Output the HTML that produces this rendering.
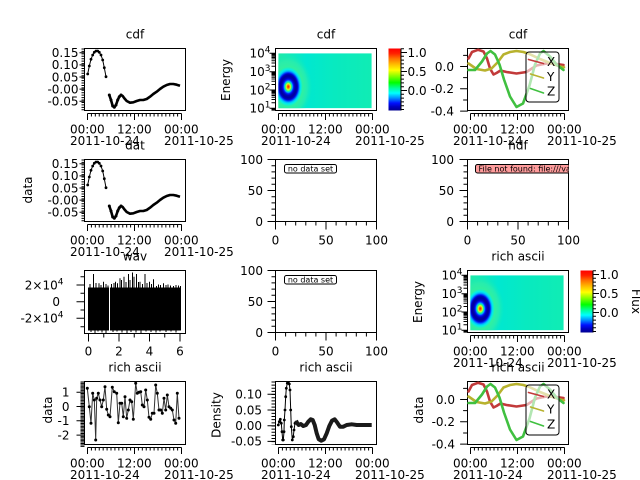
<!DOCTYPE html>
<html><head><meta charset="utf-8"><title>chart</title>
<style>
html,body{margin:0;padding:0;background:#fff;width:640px;height:480px;overflow:hidden}
svg{display:block}
text{font-family:"DejaVu Sans","Liberation Sans",sans-serif;font-size:12px;fill:#000}
.s{font-size:8px}
</style></head><body>
<svg xmlns="http://www.w3.org/2000/svg" xmlns:xlink="http://www.w3.org/1999/xlink" width="640" height="480" viewBox="0 0 640 480">
<defs>
<linearGradient id="cb" x1="0" y1="0" x2="0" y2="1">
<stop offset="0" stop-color="#ff0000"/>
<stop offset="0.08" stop-color="#ff2000"/>
<stop offset="0.16" stop-color="#ff7000"/>
<stop offset="0.26" stop-color="#ffc000"/>
<stop offset="0.35" stop-color="#ffff00"/>
<stop offset="0.45" stop-color="#80ff00"/>
<stop offset="0.55" stop-color="#00ff00"/>
<stop offset="0.64" stop-color="#00ff99"/>
<stop offset="0.72" stop-color="#00ffff"/>
<stop offset="0.80" stop-color="#0090ff"/>
<stop offset="0.88" stop-color="#0010ff"/>
<stop offset="0.94" stop-color="#0000c0"/>
<stop offset="1" stop-color="#000090"/>
</linearGradient>
<linearGradient id="bg" x1="0" y1="0" x2="1" y2="0">
<stop offset="0" stop-color="#20eaa8"/>
<stop offset="0.3" stop-color="#00e8d0"/>
<stop offset="0.6" stop-color="#08eac0"/>
<stop offset="1" stop-color="#10ecb4"/>
</linearGradient>
<radialGradient id="bl">
<stop offset="0" stop-color="#ff1000"/>
<stop offset="0.05" stop-color="#ff8000"/>
<stop offset="0.09" stop-color="#e0ff20"/>
<stop offset="0.13" stop-color="#20ff80"/>
<stop offset="0.17" stop-color="#00b0ff"/>
<stop offset="0.21" stop-color="#0020ff"/>
<stop offset="0.26" stop-color="#0000c0"/>
<stop offset="0.33" stop-color="#000098"/>
<stop offset="0.39" stop-color="#0000c8"/>
<stop offset="0.43" stop-color="#0040ff"/>
<stop offset="0.47" stop-color="#00b0ff"/>
<stop offset="0.52" stop-color="#00f0e8"/>
<stop offset="0.6" stop-color="#30f0a0"/>
<stop offset="0.78" stop-color="#30eea8" stop-opacity="0.7"/>
<stop offset="1" stop-color="#10eab8" stop-opacity="0"/>
</radialGradient>
<clipPath id="spc"><rect x="278.3" y="53.3" width="93.4" height="55"/></clipPath>
<clipPath id="hdfc"><rect x="467.5" y="159.5" width="101" height="62"/></clipPath>
<g id="tax" stroke="#000" fill="none">
<path d="M3 3H97M3 3V9.5M50 3V9.5M97 3V9.5"/>
<line x1="2.5" y1="4.5" x2="98" y2="4.5" stroke-width="3" stroke-dasharray="1 2.917"/>
</g>
<g id="nax" stroke="#000" fill="none">
<rect x="0" y="0" width="101" height="62" fill="#fff"/>
<path d="M0 62V70M50.5 62V70M101 62V70M10.1 62V66M20.2 62V66M30.3 62V66M40.4 62V66M60.6 62V66M70.7 62V66M80.8 62V66M90.9 62V66M-8 0H0M-8 31H0M-8 62H0M-4 6.2H0M-4 12.4H0M-4 18.6H0M-4 24.8H0M-4 37.2H0M-4 43.4H0M-4 49.6H0M-4 55.8H0"/>
</g>
<g id="c3c" fill="none" stroke-width="2.6" stroke-linejoin="round" stroke-linecap="round">
<polyline stroke="#c23a3a" points="1,10 4.5,3.5 10.5,1.3 16,3 19.5,10 22.5,20 26,26 29,24.5 33,22 39,23.5 49,25 59,23.5 69,17 79,15 89,15.5 96,16.5"/>
<polyline stroke="#b8b22e" points="1,15 9,20.5 17.5,22 24,20 30,14 36,6 42.5,3.5 49,2.5 56,3.5 62.5,5.8 72.5,10.5 82.5,14.5 92.5,18 96.5,18.8"/>
<polyline stroke="#40c040" points="1,21.5 7.5,21.5 14.5,13 19.5,5 23,2.5 27.5,6 32,16 36.5,31 42.5,48 49,58.5 55.5,55 62,37 67.5,16 72.5,5 76,2.5 82.5,8 89,16 96,21.5"/>
<rect x="58.5" y="3.5" width="33" height="50" rx="3" fill="#fff" fill-opacity="0.6" stroke="#000" stroke-width="1"/>
<line x1="61" y1="11" x2="76" y2="15" stroke="#c23a3a" stroke-width="1.6"/>
<line x1="63" y1="25.5" x2="76" y2="29.5" stroke="#b8b22e" stroke-width="1.6"/>
<line x1="63" y1="40" x2="76" y2="44.5" stroke="#40c040" stroke-width="1.6"/>
<path stroke="#000" stroke-width="1" d="M-7 18H0M-7 40.3H0M-7 62.6H0M-4 6.85H0M-4 29.15H0M-4 51.45H0"/>
</g>
</defs>

<!-- ========== ROW 1 / ROW 2 COL 1 ========== -->
<g id="c1p">
<rect x="84.5" y="48.5" width="101" height="62" fill="#fff" stroke="#000"/>
<path stroke="#000" d="M79.5 52.7H84.5M79.5 64.85H84.5M79.5 77H84.5M79.5 89.15H84.5M79.5 101.3H84.5"/>
<line x1="83" y1="48.5" x2="83" y2="110.5" stroke="#000" stroke-width="3" stroke-dasharray="1 1.43"/>
<polyline fill="none" stroke="#000" stroke-width="1" points="87.7,74 89.3,66 91,59.3 92.7,55 94.3,52.3 96,51 97.7,51 99.3,52.3 101,55 102.7,60 104.3,67.7 106,76.7"/>
<g fill="#000">
<circle cx="87.7" cy="74" r="1.4"/><circle cx="89.3" cy="66" r="1.4"/><circle cx="91" cy="59.3" r="1.4"/><circle cx="92.7" cy="55" r="1.4"/><circle cx="94.3" cy="52.3" r="1.4"/><circle cx="96" cy="51" r="1.4"/><circle cx="97.7" cy="51" r="1.4"/><circle cx="99.3" cy="52.3" r="1.4"/><circle cx="101" cy="55" r="1.4"/><circle cx="102.7" cy="60" r="1.4"/><circle cx="104.3" cy="67.7" r="1.4"/><circle cx="106" cy="76.7" r="1.4"/>
<circle cx="109.3" cy="95" r="1.5"/><circle cx="111" cy="100" r="1.5"/><circle cx="112.7" cy="106" r="1.5"/><circle cx="114.3" cy="107.3" r="1.5"/><circle cx="116" cy="105" r="1.5"/><circle cx="117.7" cy="100" r="1.5"/><circle cx="119.3" cy="96.7" r="1.5"/><circle cx="121" cy="95" r="1.5"/>
</g>
<polyline fill="none" stroke="#000" stroke-width="2.6" stroke-linejoin="round" points="109.3,95 111,100 112.7,106 114.3,107.3 116,105 117.7,100 119.3,96.7 121,95 122.7,96 124.3,98.3 126.7,101 130,102.7 133.3,102.3 136.7,101 140,100 143.3,100 146.7,99 150,96.7 153.3,94 156.7,91.7 160,89 163.3,86.7 166.7,85 170,84 173.3,84 176.7,84.7 180,85.7"/>
<use xlink:href="#tax" href="#tax" transform="translate(84.5,110.5)"/>
</g>
<use xlink:href="#c1p" href="#c1p" transform="translate(0,111)"/>

<text x="135" y="38.5" text-anchor="middle">cdf</text>
<g text-anchor="end">
<text x="78.5" y="57">0.15</text><text x="78.5" y="69.15">0.10</text><text x="78.5" y="81.3">0.05</text><text x="78.5" y="93.45">-0.00</text><text x="78.5" y="105.6">-0.05</text>
<text x="78.5" y="168">0.15</text><text x="78.5" y="180.15">0.10</text><text x="78.5" y="192.3">0.05</text><text x="78.5" y="204.45">-0.00</text><text x="78.5" y="216.6">-0.05</text>
</g>
<text x="70" y="133.5">00:00</text><text x="117" y="133.5">12:00</text><text x="164" y="133.5">00:00</text>
<text x="70" y="145">2011-10-24</text><text x="164" y="145">2011-10-25</text>
<text x="135" y="149.5" text-anchor="middle">dat</text>
<text transform="translate(32,190) rotate(-90)" text-anchor="middle">data</text>
<text x="70" y="244.5">00:00</text><text x="117" y="244.5">12:00</text><text x="164" y="244.5">00:00</text>
<text x="70" y="256">2011-10-24</text><text x="164" y="256">2011-10-25</text>

<!-- ========== SPECTROGRAM (R1 C2) ========== -->
<g id="spec">
<rect x="275.5" y="48.5" width="101" height="62" fill="#fff" stroke="#000"/>
<g clip-path="url(#spc)">
<rect x="278.3" y="53.3" width="93.4" height="55" fill="url(#bg)"/>
<ellipse cx="288.3" cy="86.7" rx="24" ry="33" fill="url(#bl)"/>
</g>
<path stroke="#000" fill="none" d="M269.5 53.3H275.5M269.5 71.7H275.5M269.5 90H275.5M269.5 108.3H275.5M271.5 102.8H275.5M271.5 99.55H275.5M271.5 97.3H275.5M271.5 95.5H275.5M271.5 94.04H275.5M271.5 92.8H275.5M271.5 91.75H275.5M271.5 90.8H275.5M271.5 84.5H275.5M271.5 81.25H275.5M271.5 79H275.5M271.5 77.2H275.5M271.5 75.74H275.5M271.5 74.5H275.5M271.5 73.45H275.5M271.5 72.5H275.5M271.5 66.2H275.5M271.5 62.95H275.5M271.5 60.7H275.5M271.5 58.9H275.5M271.5 57.44H275.5M271.5 56.2H275.5M271.5 55.15H275.5M271.5 54.2H275.5M271.5 109.1H275.5M271.5 110.1H275.5"/>
<rect x="388.5" y="48.5" width="12.5" height="62" fill="url(#cb)"/>
<path stroke="#000" fill="none" d="M401 48.5V110.5M401 52.5H407M401 71.5H407M401 90.5H407M401 48.7H404M401 56.3H404M401 60.1H404M401 63.9H404M401 67.7H404M401 75.3H404M401 79.1H404M401 82.9H404M401 86.7H404M401 94.3H404M401 98.1H404M401 101.9H404M401 105.7H404M401 109.5H404"/>
<use xlink:href="#tax" href="#tax" transform="translate(275.5,110.5)"/>
</g>
<text x="326" y="38.5" text-anchor="middle">cdf</text>
<g text-anchor="end">
<text x="270.5" y="57.6">10<tspan font-size="9" dy="-5">4</tspan></text>
<text x="270.5" y="76">10<tspan font-size="9" dy="-5">3</tspan></text>
<text x="270.5" y="94.3">10<tspan font-size="9" dy="-5">2</tspan></text>
<text x="270.5" y="112.6">10<tspan font-size="9" dy="-5">1</tspan></text>
</g>
<text transform="translate(230,80) rotate(-90)" text-anchor="middle">Energy</text>
<text x="407.5" y="56.8">1.0</text><text x="407.5" y="75.8">0.5</text><text x="407.5" y="94.8">0.0</text>
<text x="261" y="133.5">00:00</text><text x="308" y="133.5">12:00</text><text x="355" y="133.5">00:00</text>
<text x="261" y="145">2011-10-24</text><text x="355" y="145">2011-10-25</text>

<!-- ========== R1 C3 ========== -->
<rect x="467.5" y="48.5" width="101" height="62" fill="#fff" stroke="#000"/>
<use xlink:href="#c3c" href="#c3c" transform="translate(467.5,48.5)"/>
<use xlink:href="#tax" href="#tax" transform="translate(467.5,110.5)"/>
<text x="518" y="38.5" text-anchor="middle">cdf</text>
<g text-anchor="end"><text x="454" y="70.8">0.0</text><text x="454" y="93.1">-0.2</text><text x="454" y="115.4">-0.4</text></g>
<text x="547" y="66">X</text><text x="547" y="81">Y</text><text x="547" y="95.5">Z</text>
<text x="453" y="133.5">00:00</text><text x="500" y="133.5">12:00</text><text x="547" y="133.5">00:00</text>
<text x="453" y="145">2011-10-24</text><text x="547" y="145">2011-10-25</text>

<!-- ========== R2 C2, R3 C2, R2 C3 ========== -->
<use xlink:href="#nax" href="#nax" transform="translate(275.5,159.5)"/>
<use xlink:href="#nax" href="#nax" transform="translate(275.5,270.5)"/>
<use xlink:href="#nax" href="#nax" transform="translate(467.5,159.5)"/>
<rect x="284.5" y="164.5" width="52" height="8.5" rx="2" fill="#fff" stroke="#000"/>
<text x="310.5" y="171.3" class="s" text-anchor="middle">no data set</text>
<rect x="284.5" y="275.5" width="52" height="8.5" rx="2" fill="#fff" stroke="#000"/>
<text x="310.5" y="282.3" class="s" text-anchor="middle">no data set</text>
<g clip-path="url(#hdfc)">
<rect x="475.5" y="164.5" width="130" height="8.5" rx="2" fill="#ff9c9c" stroke="#000"/>
<text x="478.5" y="171.3" class="s">File not found: file:///var/data/test.hdf</text>
</g>
<g text-anchor="middle">
<text x="275.5" y="244.5">0</text><text x="326" y="244.5">50</text><text x="376.5" y="244.5">100</text>
<text x="275.5" y="355.5">0</text><text x="326" y="355.5">50</text><text x="376.5" y="355.5">100</text>
<text x="467.5" y="244.5">0</text><text x="518" y="244.5">50</text><text x="568.5" y="244.5">100</text>
</g>
<g text-anchor="end">
<text x="263" y="163.8">100</text><text x="263" y="194.8">50</text><text x="263" y="225.8">0</text>
<text x="263" y="274.8">100</text><text x="263" y="305.8">50</text><text x="263" y="336.8">0</text>
<text x="454" y="163.8">100</text><text x="454" y="194.8">50</text><text x="454" y="225.8">0</text>
</g>
<text x="518" y="149.5" text-anchor="middle">hdf</text>

<!-- ========== R3 C1 wav ========== -->
<rect x="84.5" y="270.5" width="101" height="63" fill="#fff" stroke="#000"/>
<rect x="88" y="287.5" width="93" height="43" fill="#000"/>
<path stroke="#000" fill="none" d="M90 287.5V284M93.5 287.5V274M96 287.5V283M99 287.5V283.3M101 287.5V285M103.5 287.5V281.7M106 287.5V284M108 287.5V285.5M111.5 287.5V284M114 287.5V283M115.5 287.5V281.7M117.5 287.5V283.3M120 287.5V278.3M121.5 287.5V280M124 287.5V276.7M126 287.5V282M128.5 287.5V274M130 287.5V280M132.5 287.5V272.5M134 287.5V276.7M136.5 287.5V274M138.5 287.5V282M140 287.5V281.7M142.5 287.5V284M145 287.5V274M147 287.5V283M149.5 287.5V281.7M151.5 287.5V284M153.5 287.5V279.3M156.5 287.5V286M158.5 287.5V284.5M160.5 287.5V285M163.5 287.5V283.3M166 287.5V285M168 287.5V284.5M170.5 287.5V285.5M173.5 287.5V286M176 287.5V285M178.5 287.5V285.5M180.5 287.5V286M91 330V332M95 330V333M98 330V331.5M102 330V332.5M106 330V333M113 330V332M117 330V331.5M122 330V332.5M127 330V333M131 330V332M136 330V332.5M141 330V333M146 330V331.5M151 330V332M156 330V332.5M160 330V331.5M166 330V332M171 330V331.5M176 330V332.5"/>
<line x1="109.5" y1="272" x2="109.5" y2="333" stroke="#fff"/>
<path stroke="#000" fill="none" d="M88.5 333.5V341.5M119 333.5V341.5M149.5 333.5V341.5M180 333.5V341.5M103.75 333.5V337.5M134.25 333.5V337.5M164.75 333.5V337.5M76.5 285H84.5M76.5 301.7H84.5M76.5 318.3H84.5M80.5 276.7H84.5M80.5 293.3H84.5M80.5 310H84.5M80.5 326.7H84.5"/>
<text x="135" y="260.5" text-anchor="middle">wav</text>
<g text-anchor="middle"><text x="88.5" y="355.5">0</text><text x="119" y="355.5">2</text><text x="149.5" y="355.5">4</text><text x="180" y="355.5">6</text></g>
<g text-anchor="end">
<text x="63.5" y="289.3">2×10<tspan font-size="9" dy="-5">4</tspan></text>
<text x="60" y="306">0</text>
<text x="63.5" y="322.6">-2×10<tspan font-size="9" dy="-5">4</tspan></text>
</g>

<!-- ========== R3 C3 spectrogram ========== -->
<use xlink:href="#spec" href="#spec" transform="translate(192,222)"/>
<text x="518" y="260.5" text-anchor="middle">rich ascii</text>
<g text-anchor="end">
<text x="462.5" y="279.6">10<tspan font-size="9" dy="-5">4</tspan></text>
<text x="462.5" y="298">10<tspan font-size="9" dy="-5">3</tspan></text>
<text x="462.5" y="316.3">10<tspan font-size="9" dy="-5">2</tspan></text>
<text x="462.5" y="334.6">10<tspan font-size="9" dy="-5">1</tspan></text>
</g>
<text transform="translate(422,302) rotate(-90)" text-anchor="middle">Energy</text>
<text x="599.5" y="278.8">1.0</text><text x="599.5" y="297.8">0.5</text><text x="599.5" y="316.8">0.0</text>
<text transform="translate(632,301.5) rotate(90)" text-anchor="middle">Flux</text>
<text x="453" y="355.5">00:00</text><text x="500" y="355.5">12:00</text><text x="547" y="355.5">00:00</text>
<text x="453" y="367">2011-10-24</text><text x="547" y="367">2011-10-25</text>

<!-- ========== R4 C1 ========== -->
<rect x="84.5" y="381.5" width="101" height="63" fill="#fff" stroke="#000"/>
<line x1="82.5" y1="381.5" x2="82.5" y2="447" stroke="#000" stroke-width="4" stroke-dasharray="1 0.43"/>
<path stroke="#000" d="M76.5 392.2H84.5M76.5 406.5H84.5M76.5 420.8H84.5M76.5 435.1H84.5"/>
<polyline fill="none" stroke="#333" stroke-width="1" points="87.3,388.3 89.3,406.7 91,423.3 92.7,393.3 94.3,400 95.7,440 96.7,398.3 98.3,393.3 100,400 101.7,406.7 103.3,400 105,386.7 106.7,409.3 108.3,415 110,416.7 112.3,387.3 114.3,391.7 116.7,393.3 118.3,422.7 120,403.3 121.7,403.3 123.3,416.7 125,396.7 126.7,418.3 128.3,410 130,400 131.7,401.7 133.3,419.3 135.7,383.3 137.3,393.3 139,392.3 140.7,391.7 142.3,405 144,406.7 145.7,390 147.3,400 149,417.3 150.7,419.3 152.3,413.3 154,413.3 155.7,385 157.3,393.3 159,410 160.7,410 162.3,413.3 164,398.3 165.7,410 167.3,395 169,406.7 170.7,408.3 172.3,410 174,420 175.7,423.3 177.3,393.3 179,418.3"/>
<g fill="#000">
<circle cx="87.3" cy="388.3" r="1.5"/><circle cx="89.3" cy="406.7" r="1.5"/><circle cx="91" cy="423.3" r="1.5"/><circle cx="92.7" cy="393.3" r="1.5"/><circle cx="94.3" cy="400" r="1.5"/><circle cx="95.7" cy="440" r="1.5"/><circle cx="96.7" cy="398.3" r="1.5"/><circle cx="98.3" cy="393.3" r="1.5"/><circle cx="100" cy="400" r="1.5"/><circle cx="101.7" cy="406.7" r="1.5"/><circle cx="103.3" cy="400" r="1.5"/><circle cx="105" cy="386.7" r="1.5"/><circle cx="106.7" cy="409.3" r="1.5"/><circle cx="108.3" cy="415" r="1.5"/><circle cx="110" cy="416.7" r="1.5"/><circle cx="112.3" cy="387.3" r="1.5"/><circle cx="114.3" cy="391.7" r="1.5"/><circle cx="116.7" cy="393.3" r="1.5"/><circle cx="118.3" cy="422.7" r="1.5"/><circle cx="120" cy="403.3" r="1.5"/><circle cx="121.7" cy="403.3" r="1.5"/><circle cx="123.3" cy="416.7" r="1.5"/><circle cx="125" cy="396.7" r="1.5"/><circle cx="126.7" cy="418.3" r="1.5"/><circle cx="128.3" cy="410" r="1.5"/><circle cx="130" cy="400" r="1.5"/><circle cx="131.7" cy="401.7" r="1.5"/><circle cx="133.3" cy="419.3" r="1.5"/><circle cx="135.7" cy="383.3" r="1.5"/><circle cx="137.3" cy="393.3" r="1.5"/><circle cx="139" cy="392.3" r="1.5"/><circle cx="140.7" cy="391.7" r="1.5"/><circle cx="142.3" cy="405" r="1.5"/><circle cx="144" cy="406.7" r="1.5"/><circle cx="145.7" cy="390" r="1.5"/><circle cx="147.3" cy="400" r="1.5"/><circle cx="149" cy="417.3" r="1.5"/><circle cx="150.7" cy="419.3" r="1.5"/><circle cx="152.3" cy="413.3" r="1.5"/><circle cx="154" cy="413.3" r="1.5"/><circle cx="155.7" cy="385" r="1.5"/><circle cx="157.3" cy="393.3" r="1.5"/><circle cx="159" cy="410" r="1.5"/><circle cx="160.7" cy="410" r="1.5"/><circle cx="162.3" cy="413.3" r="1.5"/><circle cx="164" cy="398.3" r="1.5"/><circle cx="165.7" cy="410" r="1.5"/><circle cx="167.3" cy="395" r="1.5"/><circle cx="169" cy="406.7" r="1.5"/><circle cx="170.7" cy="408.3" r="1.5"/><circle cx="172.3" cy="410" r="1.5"/><circle cx="174" cy="420" r="1.5"/><circle cx="175.7" cy="423.3" r="1.5"/><circle cx="177.3" cy="393.3" r="1.5"/><circle cx="179" cy="418.3" r="1.5"/>
</g>
<use xlink:href="#tax" href="#tax" transform="translate(84.5,444.5)"/>
<text x="135" y="371.5" text-anchor="middle">rich ascii</text>
<g text-anchor="end"><text x="69.5" y="396.5">1</text><text x="69.5" y="410.8">0</text><text x="69.5" y="425.1">-1</text><text x="69.5" y="439.4">-2</text></g>
<text transform="translate(52,410) rotate(-90)" text-anchor="middle">data</text>
<text x="70" y="467.5">00:00</text><text x="117" y="467.5">12:00</text><text x="164" y="467.5">00:00</text>
<text x="70" y="479">2011-10-24</text><text x="164" y="479">2011-10-25</text>

<!-- ========== R4 C2 Density ========== -->
<rect x="275.5" y="381.5" width="101" height="63" fill="#fff" stroke="#000"/>
<path stroke="#000" d="M267.5 394.3H275.5M267.5 410H275.5M267.5 425.7H275.5M267.5 441.4H275.5"/>
<line x1="273.5" y1="381.5" x2="273.5" y2="444.5" stroke="#000" stroke-width="4" stroke-dasharray="1 2.14"/>
<polyline fill="none" stroke="#000" stroke-width="1" points="278.3,425 279.3,421.7 280.3,419.3 281.3,423.3 282,431.7 282.7,440 283.3,440 284,431.7 284.3,420 285,410 285.7,396.7 286.3,388.3 287.3,383.3 288.3,382.7 289.3,384 290,390 290.7,410 291.3,426.7 292.3,440 293.3,436.7 294,430 295,423.3 296,420.7"/>
<g fill="#000">
<circle cx="278.3" cy="425" r="1.4"/><circle cx="279.3" cy="421.7" r="1.4"/><circle cx="280.3" cy="419.3" r="1.4"/><circle cx="281.3" cy="423.3" r="1.4"/><circle cx="282" cy="431.7" r="1.4"/><circle cx="282.7" cy="440" r="1.4"/><circle cx="283.3" cy="440" r="1.4"/><circle cx="284" cy="431.7" r="1.4"/><circle cx="284.3" cy="420" r="1.4"/><circle cx="285" cy="410" r="1.4"/><circle cx="285.7" cy="396.7" r="1.4"/><circle cx="286.3" cy="388.3" r="1.4"/><circle cx="287.3" cy="383.3" r="1.4"/><circle cx="288.3" cy="382.7" r="1.4"/><circle cx="289.3" cy="384" r="1.4"/><circle cx="290" cy="390" r="1.4"/><circle cx="290.7" cy="410" r="1.4"/><circle cx="291.3" cy="426.7" r="1.4"/><circle cx="292.3" cy="440" r="1.4"/><circle cx="293.3" cy="436.7" r="1.4"/><circle cx="294" cy="430" r="1.4"/><circle cx="295" cy="423.3" r="1.4"/>
</g>
<polyline fill="none" stroke="#1a1a1a" stroke-width="4" stroke-linejoin="round" points="296,420.7 297.3,423.3 298.7,425 300.7,424 303.3,426 306,425 308.3,421.7 310.7,419.3 312.7,420 314.7,425 316.7,433.3 318.7,439.3 321.3,440.7 324,439.3 326.7,433.3 329.3,426 332,420.7 334.7,419.3 337.3,422.7 340,426.7 343.3,426.7 346.7,425 351.7,424.3 356.7,425 363.3,425 371.7,425"/>
<use xlink:href="#tax" href="#tax" transform="translate(275.5,444.5)"/>
<text x="326" y="371.5" text-anchor="middle">rich ascii</text>
<g text-anchor="end"><text x="262" y="398.6">0.10</text><text x="262" y="414.3">0.05</text><text x="262" y="430">0.00</text><text x="262" y="445.7">-0.05</text></g>
<text transform="translate(220.5,415) rotate(-90)" text-anchor="middle">Density</text>
<text x="261" y="467.5">00:00</text><text x="308" y="467.5">12:00</text><text x="355" y="467.5">00:00</text>
<text x="261" y="479">2011-10-24</text><text x="355" y="479">2011-10-25</text>

<!-- ========== R4 C3 ========== -->
<rect x="467.5" y="381.5" width="101" height="63" fill="#fff" stroke="#000"/>
<use xlink:href="#c3c" href="#c3c" transform="translate(467.5,381.5)"/>
<use xlink:href="#tax" href="#tax" transform="translate(467.5,444.5)"/>
<text x="518" y="371.5" text-anchor="middle">rich ascii</text>
<g text-anchor="end"><text x="455" y="403.8">0.0</text><text x="455" y="426.1">-0.2</text><text x="455" y="448.4">-0.4</text></g>
<text transform="translate(423,410) rotate(-90)" text-anchor="middle">data</text>
<text x="547" y="398.5">X</text><text x="547" y="413.5">Y</text><text x="547" y="428.5">Z</text>
<text x="453" y="467.5">00:00</text><text x="500" y="467.5">12:00</text><text x="547" y="467.5">00:00</text>
<text x="453" y="479">2011-10-24</text><text x="547" y="479">2011-10-25</text>
</svg>
</body></html>
